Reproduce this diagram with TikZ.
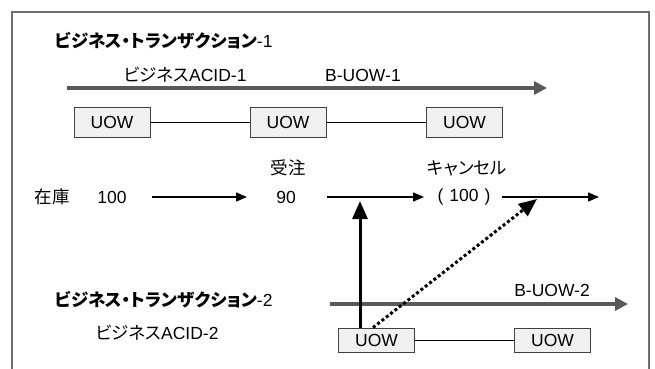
\documentclass[tikz,border=0pt]{standalone}
\usepackage{fontspec}
\setmainfont{Liberation Sans}
\newfontfamily\jp[RawFeature=+palt]{Noto Sans CJK JP}
\usetikzlibrary{arrows.meta}

\definecolor{framegray}{HTML}{6E6E6E}
\definecolor{bargray}{HTML}{595959}
\definecolor{boxfill}{HTML}{F0F0F0}
\definecolor{boxline}{HTML}{404040}

\tikzset{
  lbl/.style={inner sep=0pt, font=\fontsize{17.5}{20}\selectfont},
  uow/.style={draw=boxline, line width=0.9pt, fill=boxfill, inner sep=0pt,
              minimum width=76pt, minimum height=30pt,
              font=\fontsize{17.5}{20}\selectfont},
  link/.style={line width=1pt, black},
  bar/.style={bargray, line width=4pt, -{Triangle[length=13pt, width=13pt]}},
  flow/.style={line width=1.4pt, black, -{Triangle[length=11pt, width=9pt]}},
  push/.style={line width=3pt, black, -{Triangle[length=18pt, width=15pt]}},
  pushdot/.style={line width=3pt, black, dash pattern=on 3pt off 2.5pt,
                  -{Triangle[length=18pt, width=15pt]}},
}

\begin{document}
\begin{tikzpicture}[x=1pt, y=-1pt]
\useasboundingbox (0,0) rectangle (655,368);
% outer frame, open at the bottom
\draw[framegray, line width=1.5pt] (12,380) -- (12,12) -- (649,12) -- (649,380);

% --- business transaction 1 ---
\node[lbl, anchor=west] (t1) at (55,41) {{\jp\bfseries ビジネス・トランザクション}-1};
\node[lbl] (acid1) at (185,75) {{\jp ビジネス}ACID-1};
\node[lbl] (buow1) at (363,75) {B-UOW-1};
\coordinate (b1s) at (67,88);
\coordinate (b1e) at (547,88);
\draw[bar] (b1s) -- (b1e);

\node[uow] (u1) at (112,122) {UOW};
\node[uow] (u2) at (288,122) {UOW};
\node[uow] (u3) at (464.5,122) {UOW};
\draw[link] (u1) -- (u2);
\draw[link] (u2) -- (u3);

% --- stock values ---
\node[lbl] (zaiko) at (52,197) {\jp 在庫};
\node[lbl] (s100) at (112,197) {100};
\node[lbl] (s90) at (286,197) {90};
\node[lbl] (order) at (288,168) {\jp 受注};
\node[lbl] (c100) at (464,197) {(\hspace{6pt}100\hspace{6pt})};
\node[lbl] (cancel) at (467,168) {\jp キャンセル};
\coordinate (a1s) at (152,197);
\coordinate (a1e) at (247,197);
\coordinate (a2s) at (327,197);
\coordinate (a2e) at (424,197);
\coordinate (a3s) at (502,197);
\coordinate (a3e) at (599,197);
\draw[flow] (a1s) -- (a1e);
\draw[flow] (a2s) -- (a2e);
\draw[flow] (a3s) -- (a3e);

% --- business transaction 2 ---
\node[lbl, anchor=west] (t2) at (55,300) {{\jp\bfseries ビジネス・トランザクション}-2};
\node[lbl] (acid2) at (157,333) {{\jp ビジネス}ACID-2};
\node[lbl] (buow2) at (552,290) {B-UOW-2};
\coordinate (b2s) at (330,304);
\coordinate (b2e) at (628,304);
\draw[bar] (b2s) -- (b2e);

\node[uow, minimum height=24pt] (u4) at (376.5,340) {UOW};
\node[uow, minimum height=24pt] (u5) at (552.5,340) {UOW};
\draw[link] (u4) -- (u5);

% updates pushed from the second transaction into the first
\coordinate (vtip) at (360,201);
\coordinate (dtip) at (537,199);
\draw[push] (vtip |- u4.north) -- (vtip);
\draw[pushdot] ([xshift=-3.5pt]u4.north) -- (dtip);
\end{tikzpicture}
\end{document}
